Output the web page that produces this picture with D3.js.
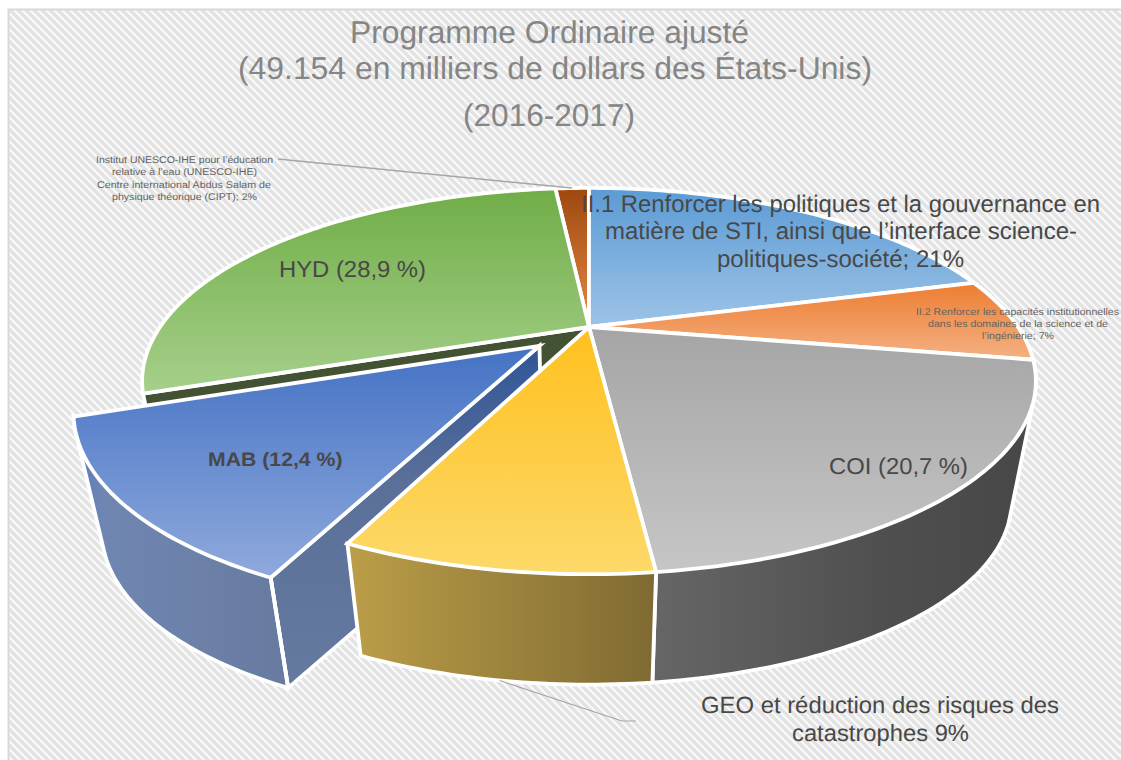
<!DOCTYPE html>
<html>
<head>
<meta charset="utf-8">
<script src="https://cdnjs.cloudflare.com/ajax/libs/d3/7.8.5/d3.min.js"></script>
<style>
html,body{margin:0;padding:0;background:#fff;}
svg{display:block;}
text{font-family:"Liberation Sans",Arial,sans-serif;text-rendering:geometricPrecision;}
</style>
</head>
<body>
<div id="chart"></div>
<script>
// ---- data (slice sizes as drawn, in percent) ----
const categories = ["II.1", "II.2", "COI", "GEO", "MAB", "HYD", "IHE-CIPT"];
const shares = [20.7, 7.1, 20.4, 8.7, 12.6, 28.9, 1.6];
const topColorsStart = ["#5b9bd5", "#ed7d31", "#a5a5a5", "#ffc01e", "#4472c4", "#70ad47", "#9e480e"];
const topColorsEnd   = ["#9dc3e6", "#f4b183", "#c6c6c6", "#fcd96a", "#8fa9dc", "#a6d08b", "#e58a47"];
const titleLines = ["Programme Ordinaire ajusté", "(49.154 en milliers de dollars des États-Unis)", "(2016-2017)"];

// ---- layout ----
const W = 1121, H = 760;
const cx = 589, cyTop = 327, cyBottom = 451;
const Rx = 429, Ry = 178, persp = 0.28, bottomScale = 0.945;
const explodeIndex = 4, explodeDist = 0.152;

const svg = d3.select("#chart").append("svg").attr("width", W).attr("height", H);
const defs = svg.append("defs");

// striped backdrop
const pat = defs.append("pattern").attr("id", "stripes").attr("patternUnits", "userSpaceOnUse")
  .attr("width", 8).attr("height", 8);
pat.append("rect").attr("width", 8).attr("height", 8).attr("fill", "#fbfbfb");
pat.append("path").attr("d", "M-2,-2 L10,10 M-2,6 L2,10 M6,-2 L10,2")
  .attr("stroke", "#e3e3e3").attr("stroke-width", 3.6).attr("fill", "none");

svg.append("rect").attr("width", W).attr("height", H).attr("fill", "#fff");
svg.append("rect").attr("x", 9).attr("y", 10).attr("width", W - 9).attr("height", H - 10).attr("fill", "url(#stripes)");
svg.append("path").attr("d", `M8.5,${H} V9.5 H${W}`).attr("fill", "none").attr("stroke", "#d9d9d9").attr("stroke-width", 2);

// projection of the pie's disc
function proj(u, v, bottom) {
  const s = 1 / (1 - persp * v);
  const k = bottom ? bottomScale : 1;
  return [cx + k * Rx * u * s, (bottom ? cyBottom : cyTop) + k * Ry * v * s];
}

const arcs = d3.pie().value(d => d).sort(null).startAngle(0).endAngle(2 * Math.PI)(shares);

function offsetOf(i) {
  if (i !== explodeIndex) return [0, 0];
  const m = (arcs[i].startAngle + arcs[i].endAngle) / 2;
  return [Math.sin(m) * explodeDist, -Math.cos(m) * explodeDist];
}
function rim(i, a, bottom) {
  const o = offsetOf(i);
  return proj(Math.sin(a) + o[0], -Math.cos(a) + o[1], bottom);
}
function apex(i, bottom) {
  const o = offsetOf(i);
  return proj(o[0], o[1], bottom);
}
function rimPts(i, bottom) {
  const a0 = arcs[i].startAngle, a1 = arcs[i].endAngle;
  const n = Math.max(8, Math.ceil((a1 - a0) * 60));
  return d3.range(n + 1).map(t => rim(i, a0 + (a1 - a0) * t / n, bottom));
}
const closed = d3.line().curve(d3.curveLinearClosed);

function gradient(id, stops, horiz) {
  const g = defs.append("linearGradient").attr("id", id)
    .attr("x1", 0).attr("y1", 0).attr("x2", horiz ? 1 : 0).attr("y2", horiz ? 0 : 1);
  stops.forEach(s => g.append("stop").attr("offset", s[0]).attr("stop-color", s[1]));
}
categories.forEach((c, i) => gradient("top" + i, [[0, topColorsStart[i]], [1, topColorsEnd[i]]], false));
gradient("wallCOI", [[0, "#666666"], [0.6, "#4f4f4f"], [1, "#474747"]], true);
gradient("wallGEO", [[0, "#bb9e48"], [1, "#7f6a32"]], true);
gradient("wallMAB", [[0, "#567ac0"], [0.14, "#6f86b2"], [0.6, "#6c80a8"], [1, "#677aa0"]], true);
gradient("sideMAB", [[0, "#2f5597"], [0.4, "#5a7099"], [1, "#657a9f"]], false);

const layer = svg.append("g").attr("stroke", "#fff").attr("stroke-width", 3.8).attr("stroke-linejoin", "miter");

function drawTop(i) {
  const pts = [apex(i, false)].concat(rimPts(i, false));
  layer.append("path").attr("d", closed(pts)).attr("fill", `url(#top${i})`);
}
function drawWall(i, fill) {
  const hull = d3.polygonHull(rimPts(i, false).concat(rimPts(i, true)));
  layer.append("path").attr("d", closed(hull)).attr("fill", fill);
}
function drawSide(i, a, fill) {
  const pts = [apex(i, false), rim(i, a, false), rim(i, a, true), apex(i, true)];
  layer.append("path").attr("d", closed(pts)).attr("fill", fill);
}

// painter's order, back to front
drawTop(6);
drawTop(0);
drawTop(1);
drawSide(5, arcs[5].startAngle, "#435232");
drawTop(5);
drawWall(2, "url(#wallCOI)");
drawTop(2);
drawSide(4, arcs[4].startAngle, "url(#sideMAB)");
drawWall(4, "url(#wallMAB)");
layer.append("path").attr("d", d3.line()([rim(4, arcs[4].startAngle, false), rim(4, arcs[4].startAngle, true)]));
drawTop(4);
drawWall(3, "url(#wallGEO)");
drawTop(3);

// leader lines
const lineGen = d3.line();
const midAngle = i => (arcs[i].startAngle + arcs[i].endAngle) / 2;
svg.append("path").attr("d", lineGen([[278, 159], rim(6, midAngle(6), false)]))
  .attr("fill", "none").attr("stroke", "#a6a6a6").attr("stroke-width", 1.6);
svg.append("path").attr("d", lineGen([rim(3, midAngle(3), true), [622, 721], [636, 721]]))
  .attr("fill", "none").attr("stroke", "#a6a6a6").attr("stroke-width", 1.2);

// text: each line fitted between measured ends
function line(str, x0, x1, base, size, color, bold) {
  svg.append("text").attr("x", x0).attr("y", base)
    .attr("textLength", x1 - x0).attr("lengthAdjust", "spacingAndGlyphs")
    .attr("font-size", size).attr("fill", color)
    .attr("font-weight", bold ? "bold" : "normal").text(str);
}
const tc = "#858585", lc = "#484848", sc = "#626262";
line(titleLines[0], 350, 749, 43, 31.5, tc);
line(titleLines[1], 238, 872, 79, 31.5, tc);
line(titleLines[2], 463, 635, 126, 31.5, tc);

line("II.1 Renforcer les politiques et la gouvernance en", 581, 1100, 212, 24, lc);
line("matière de STI, ainsi que l’interface science-", 605, 1077, 239, 24, lc);
line("politiques-société; 21%", 717, 964, 267, 24, lc);

line("II.2 Renforcer les capacités institutionnelles", 916, 1119, 315, 9.8, sc);
line("dans les domaines de la science et de", 928, 1108, 327, 9.8, sc);
line("l’ingénierie; 7%", 982, 1054, 339, 9.8, sc);

line("Institut UNESCO-IHE pour l’éducation", 96, 273, 163, 9.8, sc);
line("relative à l’eau (UNESCO-IHE)", 112, 257, 175, 9.8, sc);
line("Centre international Abdus Salam de", 97, 271, 188, 9.8, sc);
line("physique théorique (CIPT); 2%", 112, 257, 200, 9.8, sc);

line("HYD (28,9 %)", 279, 426, 277, 23, lc);
line("MAB (12,4 %)", 208, 342.5, 466, 19.5, lc, true);
line("COI (20,7 %)", 829, 968, 474, 23, lc);
line("GEO et réduction des risques des", 701, 1059, 713, 23.5, lc);
line("catastrophes 9%", 792, 969, 741, 23.5, lc);
</script>
</body>
</html>
